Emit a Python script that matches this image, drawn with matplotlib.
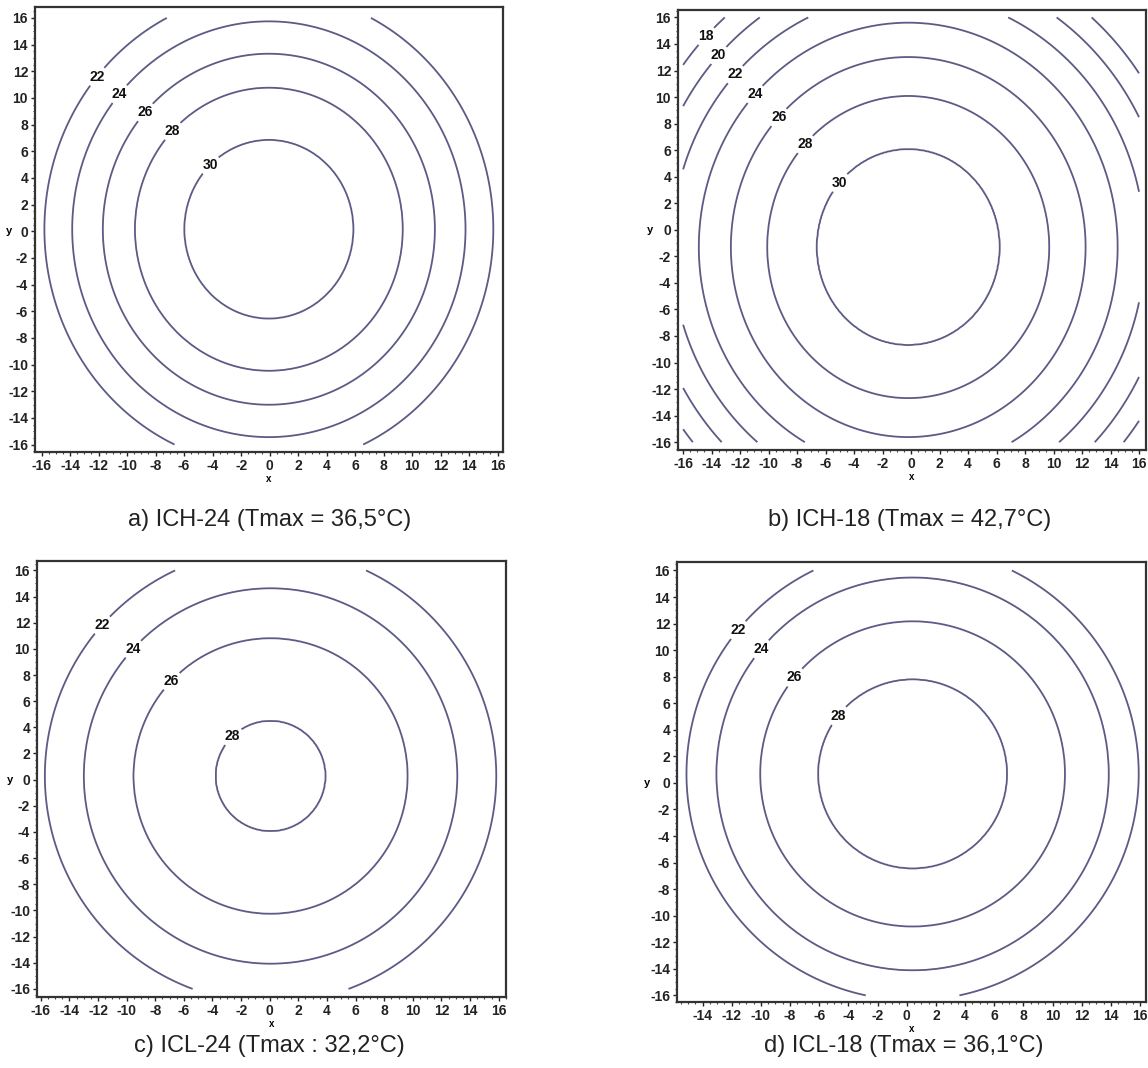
import numpy as np
import matplotlib
matplotlib.use("Agg")
import matplotlib.pyplot as plt
from matplotlib.ticker import MultipleLocator

plt.rcParams["axes.unicode_minus"] = False

# ---------------- data ----------------
titles = ["a) ICH-24 (Tmax = 36,5°C)", "b) ICH-18 (Tmax = 42,7°C)",
          "c) ICL-24 (Tmax : 32,2°C)", "d) ICL-18 (Tmax = 36,1°C)"]
tmax = [36.5, 42.7, 32.2, 36.1]

# contour levels (°C) and their x semi-axis radius (m) per panel
levels_a = [30, 28, 26, 24, 22]
radii_a = [5.92, 9.4, 11.65, 13.8, 15.75]
levels_b = [30, 28, 26, 24, 22, 20, 18]
radii_b = [6.4, 9.9, 12.45, 14.7, 16.6, 18.3, 19.8]
levels_c = [28, 26, 24, 22]
radii_c = [3.82, 9.58, 13.05, 15.77]
levels_d = [28, 26, 24, 22]
radii_d = [6.46, 10.45, 13.45, 15.5]

# centre (x, y) of the warm spot and vertical / horizontal elongation
centres = [(-0.05, 0.15), (-0.2, -1.3), (0.06, 0.28), (0.4, 0.68)]
aspects = [1.13, 1.15, 1.10, 1.10]

# ---------------- layout / style ----------------
label_pos = [
    [(-11.8, 11.35), (-10.3, 10.1), (-8.7, 8.9), (-6.6, 7.3), (-4.1, 4.9)],
    [(-14.4, 14.6), (-13.35, 13.0), (-12.3, 11.66), (-10.8, 10.07),
     (-9.25, 8.44), (-7.5, 6.5), (-5.0, 3.55)],
    [(-11.6, 11.73), (-9.4, 9.85), (-6.8, 7.47), (-2.5, 3.2)],
    [(-11.3, 11.3), (-9.6, 9.78), (-7.5, 7.8), (-4.6, 5.0)],
]
W, H = 1148, 1068
boxes_px = [(35, 7, 503, 452), (678, 10, 1146, 450),
            (37, 561, 506, 997), (677, 562, 1146, 1002)]
xlims = [(-16.46, 16.38), (-16.36, 16.49), (-16.26, 16.51), (-15.75, 16.4)]
ylims = [(-16.56, 16.82), (-16.59, 16.56), (-16.62, 16.72), (-16.5, 16.64)]
xticks_all = [np.arange(-16, 17, 2)] * 3 + [np.arange(-14, 17, 2)]
title_px = [(270, 520), (910, 520), (269, 1046), (904, 1046)]
ylabel_dx = [-26, -28, -27, -30]

line_col = "#5b5b85"
tick_font = ["Liberation Sans Narrow", "Liberation Sans", "DejaVu Sans"]
title_font = ["Liberation Sans", "DejaVu Sans"]

all_levels = [levels_a, levels_b, levels_c, levels_d]
all_radii = [radii_a, radii_b, radii_c, radii_d]

fig = plt.figure(figsize=(W / 100, H / 100), dpi=100)

gx = np.linspace(-16, 16, 401)
X, Y = np.meshgrid(gx, gx)

for i in range(4):
    l, t, r, b = boxes_px[i]
    ax = fig.add_axes([l / W, 1 - b / H, (r - l) / W, (b - t) / H])
    cx, cy = centres[i]
    R = np.hypot(X - cx, (Y - cy) / aspects[i])
    rp = np.array([0.0] + list(all_radii[i]))
    tp = np.array([tmax[i]] + list(all_levels[i]), dtype=float)
    T = np.interp(R, rp, tp)
    slope = (tp[-1] - tp[-2]) / (rp[-1] - rp[-2])
    out = R > rp[-1]
    T[out] = tp[-1] + slope * (R[out] - rp[-1])

    cs = ax.contour(X, Y, T, levels=sorted(all_levels[i]), colors=line_col,
                    linewidths=1.3)
    texts = ax.clabel(cs, manual=label_pos[i], inline=True, fmt="%d",
                      fontsize=10, inline_spacing=3, colors="#111111")
    for tx in texts:
        tx.set_rotation(0)
        tx.set_fontfamily(tick_font)
        tx.set_fontweight("bold")

    ax.set_xlim(*xlims[i])
    ax.set_ylim(*ylims[i])
    ax.set_xticks(xticks_all[i])
    ax.set_yticks(np.arange(-16, 17, 2))
    ax.xaxis.set_minor_locator(MultipleLocator(0.5))
    ax.yaxis.set_minor_locator(MultipleLocator(0.5))
    ax.tick_params(which="major", direction="out", length=3, width=1,
                   labelsize=10, pad=2, colors="#222222")
    ax.tick_params(which="minor", direction="out", length=1.5, width=0.8,
                   colors="#444444")
    for lab in ax.get_xticklabels() + ax.get_yticklabels():
        lab.set_fontfamily(tick_font)
        lab.set_fontweight("bold")
    for sp in ax.spines.values():
        sp.set_linewidth(1.6)
        sp.set_color("#333333")

    ax.set_xlabel("x", fontsize=7, fontweight="bold", labelpad=1,
                  family=tick_font)
    y0 = (0 - ylims[i][0]) / (ylims[i][1] - ylims[i][0])
    ax.set_ylabel("y", fontsize=8, fontweight="bold", rotation=0,
                  family=tick_font, va="center", ha="center")
    ax.yaxis.set_label_coords(ylabel_dx[i] / (r - l), y0)

    tx_, ty_ = title_px[i]
    fig.text(tx_ / W, 1 - ty_ / H, titles[i], ha="center", va="center",
             fontsize=17, family=title_font, color="#222222")

fig.savefig("out.png", dpi=100)
